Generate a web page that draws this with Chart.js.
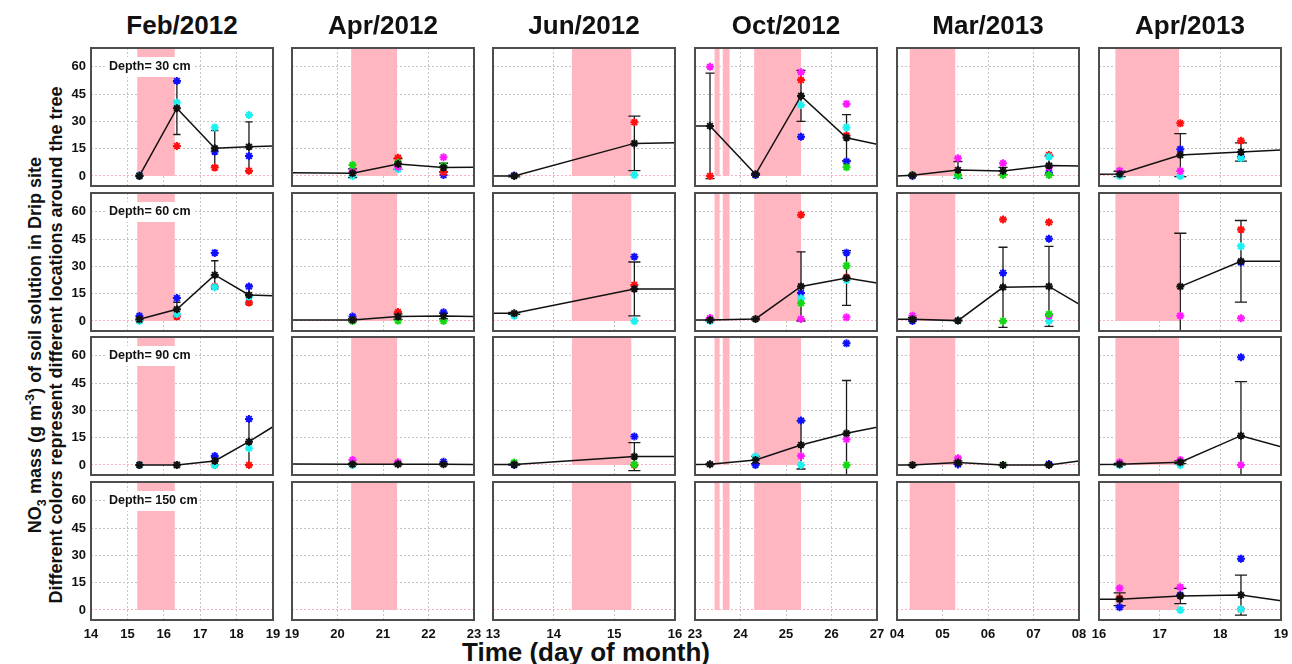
<!DOCTYPE html>
<html>
<head>
<meta charset="utf-8">
<script src="https://cdn.jsdelivr.net/npm/chart.js@4.4.1/dist/chart.umd.min.js"></script>
<style>
  html, body { margin: 0; padding: 0; background: #fff; }
  #wrap { position: relative; width: 1292px; height: 664px; overflow: hidden; font-family: "Liberation Sans", Arial, sans-serif; color: #111; }
  #wrap canvas { position: absolute; }
  .title { position: absolute; top: 10px; width: 182px; text-align: center; font-weight: bold; font-size: 26px; line-height: 30px; }
  .ytitle { position: absolute; white-space: nowrap; font-weight: bold; font-size: 18px; line-height: 20px; transform: translate(-50%, -50%) rotate(-90deg); }
  .xtitle { position: absolute; left: 586px; top: 652px; white-space: nowrap; font-weight: bold; font-size: 26px; transform: translate(-50%, -50%); }
  sub, sup { font-size: 70%; }
</style>
</head>
<body>
<div id="wrap">
  <div class="ytitle" style="left:36px; top:345px;">NO<sub>3</sub> mass (g m<sup>-3</sup>) of soil solution in Drip site</div>
  <div class="ytitle" style="left:56px; top:345px;">Different colors represent different locations around the tree</div>
  <div class="xtitle">Time (day of month)</div>
</div>
<script>
  // panels: 6 sampling campaigns (columns) x 4 depths (rows)
  var months = ['Feb/2012', 'Apr/2012', 'Jun/2012', 'Oct/2012', 'Mar/2013', 'Apr/2013'];
  var depths = ['30', '60', '90', '150'];
  var xRanges = [[14, 19], [19, 23], [13, 16], [23, 27], [4, 8], [16, 19]];
  var yTicks = [0, 15, 30, 45, 60];

  // shaded irrigation / rain periods (day of month)
  var rainPeriods = [
    [[15.27, 16.30]],
    [[20.30, 21.31]],
    [[14.30, 15.28]],
    [[23.43, 23.54], [23.61, 23.76], [24.30, 25.33]],
    [[4.28, 5.28]],
    [[16.27, 17.32]]
  ];

  var sampleDays = [
    [15.33, 16.36, 17.40, 18.34],
    [20.33, 21.33, 22.33],
    [13.35, 15.33],
    [23.33, 24.33, 25.33, 26.33],
    [4.34, 5.34, 6.33, 7.34],
    [16.34, 17.34, 18.34]
  ];

  // mean, sd and line value at left/right panel edge; rows = depths
  var feb12Mean = [[0, 37.2, 15.2, 16.1], [0.9, 6.4, 25.3, 14.3], [0, 0, 2.2, 12.8], []];
  var feb12Sd = [[0.5, 14.4, 9.7, 13.6], [1, 3.9, 7.8, 5], [0.3, 0.3, 2, 12.6], []];
  var feb12Edge = [[null, 16.5], [null, 13.9], [null, 21], [null, null]];
  var feb12Loc = {
    red: [[0, 16.5, 4.6, 2.9], [0.5, 2.4, 18.9, 10.1], [0, 0, 0, 0], []],
    blue: [[0.3, 52.2, 13.4, 11], [2.7, 12.6, 37.4, 18.9], [0, 0, 4.9, 25.3], []],
    cyan: [[0, 40.3, 26.7, 33.5], [0, 3.8, 18.5, 13.4], [0, 0, 0, 9.2], []],
    green: [[], [], [], []],
    magenta: [[], [], [], []]
  };

  var apr12Mean = [[1.5, 6.6, 4.6], [0.5, 2.4, 2.7], [0.4, 0.4, 0.4], []];
  var apr12Sd = [[2.4, 3, 2.4], [0.8, 1.5, 1.5], [0.5, 0.3, 0.3], []];
  var apr12Edge = [[1.8, 4.8], [0.5, 2.4], [0.5, 0.2], [null, null]];
  var apr12Loc = {
    red: [[null, 10, 2], [null, 4.9, null], [], []],
    blue: [[null, null, 0.5], [2.4, null, 4.8], [null, null, 1.8], []],
    cyan: [[0, 3.7, null], [], [0, null, null], []],
    green: [[6, 7.3, 5.5], [0, 0.2, 0], [], []],
    magenta: [[2.4, 5.1, 10.3], [], [2.7, 1.5, null], []]
  };

  var jun12Mean = [[0, 17.9], [4.2, 17.6], [0.2, 4.6], []];
  var jun12Sd = [[0.5, 15], [0.5, 14.8], [0.3, 7.7], []];
  var jun12Edge = [[0, 18.3], [4.2, 17.6], [0.2, 4.6], [null, null]];
  var jun12Loc = {
    red: [[null, 29.5], [null, 19.8], [null, 0], []],
    blue: [[0.3, null], [null, 35.3], [0, 15.6], []],
    cyan: [[null, 0.5], [2.9, 0], [], []],
    green: [[], [], [1.3, 0.3], []],
    magenta: [[], [], [], []]
  };

  var oct12Mean = [[27.5, 0.9, 44, 21], [0.5, 1.1, 19, 23.6], [0.4, 2.7, 11, 17.4], []];
  var oct12Sd = [[29, 0.5, 14, 12.7], [0.5, 0.5, 19, 15], [0.3, 2, 13.2, 29], []];
  var oct12Edge = [[27.5, 17.4], [0.5, 20.9], [0.3, 20.7], [null, null]];
  var oct12Loc = {
    red: [[0, null, 52.7, 22.2], [null, null, 58.4, 24], [], []],
    blue: [[null, 0.5, 21.6, 7.9], [null, null, 15.4, 37.5], [null, 0, 24.4, 66.8], []],
    cyan: [[null, null, 39, 26.7], [0, null, 12.5, 22.5], [null, 4.6, 0, null], []],
    green: [[null, null, null, 4.8], [null, null, 9.7, 30.4], [null, null, null, 0], []],
    magenta: [[60, null, 57, 39.6], [1.6, null, 1.1, 2], [null, null, 4.9, 14.1], []]
  };

  var mar13Mean = [[0.4, 3.3, 2.7, 5.7], [0.9, 0.2, 18.5, 19], [0, 1.3, 0, 0], []];
  var mar13Sd = [[0.5, 4.6, 2, 5.2], [1, 0.3, 22, 22], [0.3, 1, 0.3, 0.3], []];
  var mar13Edge = [[0, 5.5], [0.9, 9.3], [0, 2.2], [null, null]];
  var mar13Loc = {
    red: [[null, null, null, 11.5], [null, null, 55.7, 54.2], [], []],
    blue: [[0, null, null, 1.8], [0, null, 26.4, 45.2], [null, 0.3, null, 0.5], []],
    cyan: [[null, 0, null, 10.6], [null, 0.2, null, 0], [], []],
    green: [[0.5, 0.5, 0.5, 0.5], [null, null, 0, 3.8], [null, null, 0, null], []],
    magenta: [[null, 9.7, 7, 4.8], [2.9, null, null, 2.9], [null, 3.7, null, null], []]
  };

  var apr13Mean = [[1.1, 11.5, 13.2], [null, 18.9, 32.8], [0.4, 1.5, 16.1], [5.9, 7.7, 8.2]];
  var apr13Sd = [[1.5, 11.8, 5], [null, 29.3, 22.4], [0.5, 0.8, 29.7], [3.5, 4.2, 11]];
  var apr13Edge = [[0.9, 14.3], [null, 32.8], [0.3, 10], [5.9, 5.1]];
  var apr13Loc = {
    red: [[null, 28.9, 19.4], [null, null, 50.2], [], [6.4, null, 0.4]],
    blue: [[null, 14.7, 10.6], [null, null, 32.2], [null, null, 59.2], [1.5, 8.2, 28.2]],
    cyan: [[0, 0, 9.7], [null, null, 41], [0, 0, null], [null, 0, 0.4]],
    green: [[], [], [], []],
    magenta: [[2.9, 2.7, null], [null, 2.9, 1.5], [1.5, 2.7, 0], [11.9, 12.5, null]]
  };

  var meanAll = [feb12Mean, apr12Mean, jun12Mean, oct12Mean, mar13Mean, apr13Mean];
  var sdAll = [feb12Sd, apr12Sd, jun12Sd, oct12Sd, mar13Sd, apr13Sd];
  var edgeAll = [feb12Edge, apr12Edge, jun12Edge, oct12Edge, mar13Edge, apr13Edge];
  var locAll = [feb12Loc, apr12Loc, jun12Loc, oct12Loc, mar13Loc, apr13Loc];
  var locColors = { green: '#14d814', magenta: '#ff1aff', cyan: '#1ef0f0', red: '#ff1010', blue: '#1010ff' };

  var panelLeft = [91, 292, 493, 695, 897, 1099];
  var panelTop = [48, 193, 337, 482];
  var panelW = 182, panelH = 138;
  var FONT = '"Liberation Sans", Arial, sans-serif';

  var panelDeco = {
    id: 'panelDeco',
    beforeDatasetsDraw: function(chart) {
      var o = chart.options.plugins.panelDeco;
      var ctx = chart.ctx, a = chart.chartArea, xs = chart.scales.x, ys = chart.scales.y;
      ctx.save();
      ctx.beginPath();
      ctx.rect(a.left, a.top, a.right - a.left, a.bottom - a.top);
      ctx.clip();
      var y0 = ys.getPixelForValue(0);
      ctx.fillStyle = 'rgb(255,182,193)';
      o.rain.forEach(function(p) {
        var x0 = xs.getPixelForValue(p[0]), x1 = xs.getPixelForValue(p[1]);
        ctx.fillRect(x0, a.top, x1 - x0, y0 - a.top);
      });
      if (o.label) {
        ctx.fillStyle = '#fff';
        ctx.fillRect(a.left + 16, a.top + 9, 88, 20);
        ctx.fillStyle = '#111';
        ctx.font = 'bold 12.5px ' + FONT;
        ctx.textBaseline = 'middle';
        ctx.fillText(o.label, a.left + 18, a.top + 19);
      }
      // error bars, caps 0.2 day wide
      ctx.strokeStyle = '#1a1a1a';
      ctx.lineWidth = 1.3;
      o.x.forEach(function(x, i) {
        var m = o.mean[i], s = o.sd[i];
        if (m == null || s == null) return;
        var px = xs.getPixelForValue(x);
        var top = ys.getPixelForValue(m + s), bot = ys.getPixelForValue(m - s);
        var c0 = xs.getPixelForValue(x - 0.1), c1 = xs.getPixelForValue(x + 0.1);
        ctx.beginPath();
        ctx.moveTo(px, top); ctx.lineTo(px, bot);
        ctx.moveTo(c0, top); ctx.lineTo(c1, top);
        ctx.moveTo(c0, bot); ctx.lineTo(c1, bot);
        ctx.stroke();
      });
      ctx.restore();
    },
    afterDraw: function(chart) {
      var ctx = chart.ctx, a = chart.chartArea;
      ctx.save();
      ctx.strokeStyle = '#4d4d4d';
      ctx.lineWidth = 2;
      ctx.strokeRect(a.left, a.top, a.right - a.left, a.bottom - a.top);
      ctx.restore();
    }
  };

  function makePanel(c, r) {
    var wrap = document.getElementById('wrap');
    var isLeft = c === 0, isBottom = r === 3;
    // generous padding so Chart.js never shifts the plot area for label overflow
    var padL = 22, padR = 22, padT = 20, padB = 20;
    var yW = isLeft ? 34 : 0;
    var xH = isBottom ? 24 : 0;
    var canvas = document.createElement('canvas');
    canvas.width = padL + yW + panelW + padR;
    canvas.height = padT + panelH + xH + padB;
    canvas.style.left = (panelLeft[c] - padL - yW) + 'px';
    canvas.style.top = (panelTop[r] - padT) + 'px';
    wrap.appendChild(canvas);

    var days = sampleDays[c];
    var mean = meanAll[c][r], sd = sdAll[c][r], edge = edgeAll[c][r];
    var datasets = [];

    Object.keys(locColors).forEach(function(name) {
      var vals = locAll[c][name][r] || [];
      var pts = [];
      vals.forEach(function(v, i) { if (v != null) pts.push({ x: days[i], y: v }); });
      if (!pts.length) return;
      datasets.push({
        data: pts, showLine: false, order: 3,
        pointStyle: 'star', pointRadius: 4, borderWidth: 2,
        borderColor: locColors[name], backgroundColor: locColors[name]
      });
    });

    var linePts = [], meanPts = [];
    if (edge[0] != null) linePts.push({ x: xRanges[c][0], y: edge[0] });
    mean.forEach(function(v, i) {
      if (v == null) return;
      linePts.push({ x: days[i], y: v });
      meanPts.push({ x: days[i], y: v });
    });
    if (edge[1] != null) linePts.push({ x: xRanges[c][1], y: edge[1] });
    if (linePts.length) {
      datasets.push({ data: linePts, showLine: true, order: 1, pointRadius: 0, borderColor: '#111', borderWidth: 1.5 });
      datasets.push({ data: meanPts, showLine: false, order: 0, pointStyle: 'star', pointRadius: 4, borderWidth: 2, borderColor: '#111', backgroundColor: '#111' });
    }

    new Chart(canvas.getContext('2d'), {
      type: 'scatter',
      data: { datasets: datasets },
      options: {
        responsive: false,
        animation: false,
        layout: { autoPadding: false, padding: { left: padL, right: padR, top: padT, bottom: padB } },
        plugins: {
          legend: { display: false },
          tooltip: { enabled: false },
          panelDeco: {
            rain: rainPeriods[c],
            label: isLeft ? 'Depth= ' + depths[r] + ' cm' : null,
            x: days, mean: mean, sd: sd
          }
        },
        scales: {
          x: {
            type: 'linear', min: xRanges[c][0], max: xRanges[c][1],
            afterFit: function(s) { s.height = xH; },
            grid: { color: '#c4c4c4', lineWidth: 1, drawTicks: false },
            border: { display: false, dash: [2, 2] },
            ticks: {
              display: isBottom, stepSize: 1, padding: 7, color: '#111',
              font: { family: FONT, size: 13, weight: 'bold' },
              maxRotation: 0,
              callback: function(v) { return String(v).padStart(2, '0'); }
            }
          },
          y: {
            type: 'linear', min: -5.5, max: 70.3,
            afterFit: function(s) { s.width = yW; },
            afterBuildTicks: function(axis) { axis.ticks = yTicks.map(function(v) { return { value: v }; }); },
            grid: {
              drawTicks: false, lineWidth: 1,
              color: function(ctx) { return ctx.tick && ctx.tick.value === 0 ? 'rgba(255,140,160,0.7)' : '#c4c4c4'; }
            },
            border: { display: false, dash: [2, 2] },
            ticks: {
              display: isLeft, padding: 5, color: '#111',
              font: { family: FONT, size: 13, weight: 'bold' }
            }
          }
        }
      },
      plugins: [panelDeco]
    });
  }

  months.forEach(function(m, c) {
    var t = document.createElement('div');
    t.className = 'title';
    t.style.left = panelLeft[c] + 'px';
    t.textContent = m;
    document.getElementById('wrap').appendChild(t);
    for (var r = 0; r < 4; r++) makePanel(c, r);
  });
</script>
</body>
</html>
